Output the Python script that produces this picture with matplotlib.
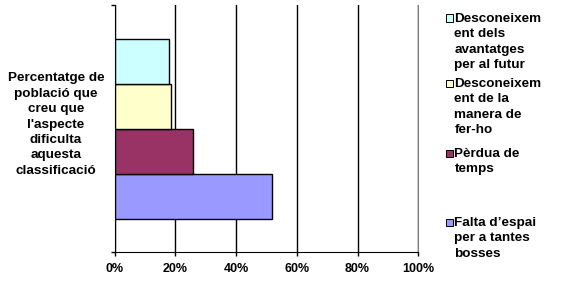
import matplotlib
matplotlib.use("Agg")
import matplotlib.pyplot as plt
from matplotlib.patches import Rectangle

plt.rcParams['font.family'] = ['Liberation Sans', 'DejaVu Sans']
plt.rcParams['font.weight'] = 'bold'
plt.rcParams['font.size'] = 9

# series, from bottom bar to top bar
labels = ["Falta d\u2019espai\nper a tantes\nbosses",
          "P\u00e8rdua de\ntemps",
          "Desconeixem\nent de la\nmanera de\nfer-ho",
          "Desconeixem\nent dels\navantatges\nper al futur"]
values = [0.517, 0.257, 0.186, 0.180]
colors = ["#9999FF", "#993366", "#FFFFCC", "#CCFFFF"]
category = "Percentatge de\npoblaci\u00f3 que\ncreu que\nl'aspecte\ndificulta\naquesta\nclassificaci\u00f3"
xticks = [0, 0.2, 0.4, 0.6, 0.8, 1.0]
xticklabels = ["0%", "20%", "40%", "60%", "80%", "100%"]

W, H = 566, 288
fig = plt.figure(figsize=(W / 100, H / 100), dpi=100)
ax = fig.add_axes([114.5 / W, 1 - 252 / H, (418.3 - 114.5) / W, (252 - 5) / H])

n = len(values)
h = 1.0
for i in range(n):
    ax.barh(i - (n - 1) / 2, values[i], height=h, color=colors[i],
            edgecolor='black', linewidth=1, zorder=3)

half = 247 / 45 / 2
ax.set_ylim(-half, half)
ax.set_xlim(0, 1)
ax.set_yticks([-half, half])
ax.set_yticklabels([])
ax.tick_params(axis='y', direction='out', length=3, width=1, color='black')
ax.set_xticks(xticks)
ax.set_xticklabels(xticklabels)
ax.tick_params(axis='x', direction='out', length=3, width=1, color='black', pad=5)
ax.grid(axis='x', color='black', linewidth=1)
ax.set_axisbelow(True)

ax.spines['top'].set_visible(False)
ax.spines['right'].set_color('#808080')
ax.spines['right'].set_zorder(5)
ax.spines['left'].set_color('black')
ax.spines['bottom'].set_color('black')
ax.spines['left'].set_zorder(5)
ax.spines['bottom'].set_zorder(5)

fs = 9.7
ls = 1.38
fig.text(56 / W, 1 - 124.5 / H, category, ha='center', va='center',
         multialignment='center', linespacing=ls, fontsize=fs)

# legend, top entry first
leg_y = [18, 83, 153, 222]
for k, y in enumerate(leg_y):
    i = n - 1 - k
    fig.add_artist(Rectangle((446 / W, 1 - (y + 3.5) / H), 7 / W, 7 / H,
                             facecolor=colors[i], edgecolor='black',
                             linewidth=0.7, transform=fig.transFigure))
    fig.text(454.5 / W, 1 - (y - 5) / H, labels[i], ha='left', va='top',
             linespacing=ls, fontsize=fs)

fig.savefig("out.png", dpi=100)
